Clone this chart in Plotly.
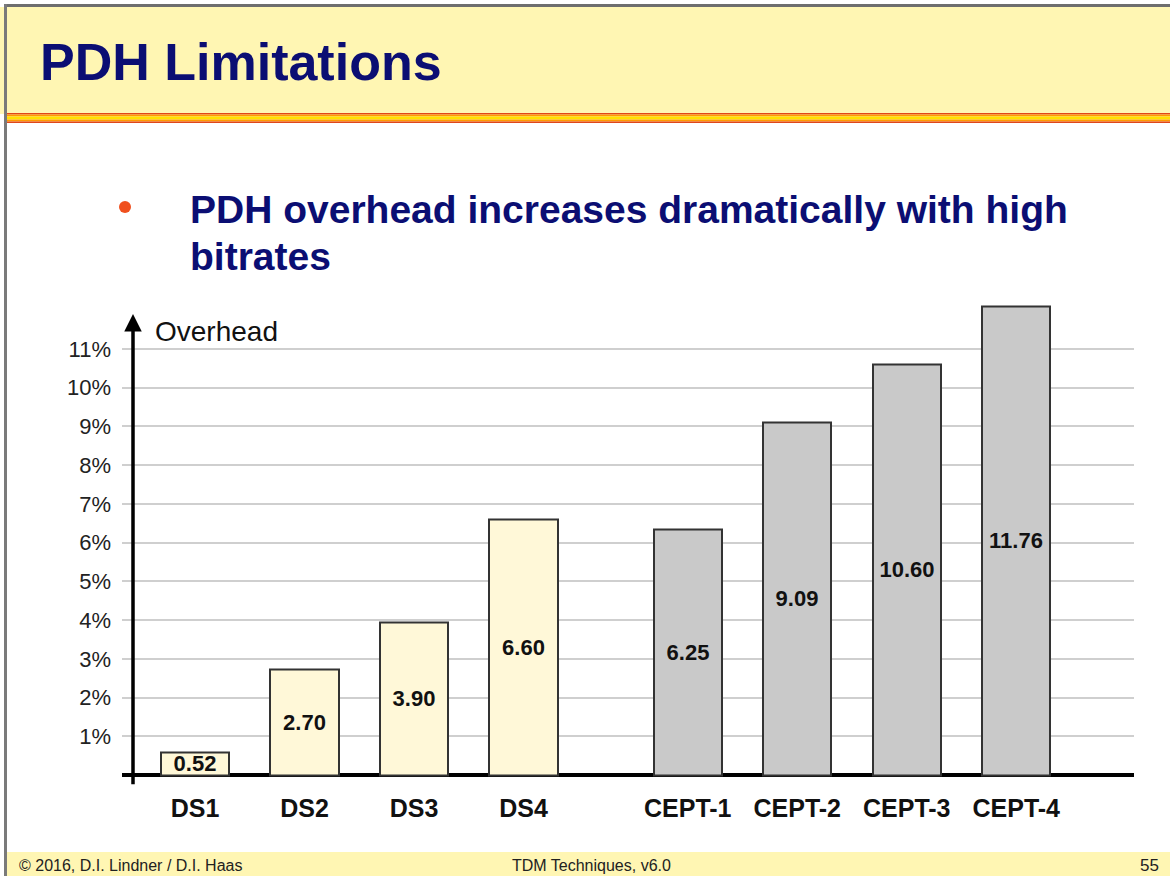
import plotly.graph_objects as go

# ---- data ----
categories = ["DS1", "DS2", "DS3", "DS4", "CEPT-1", "CEPT-2", "CEPT-3", "CEPT-4"]
groups = ["DS", "DS", "DS", "DS", "CEPT", "CEPT", "CEPT", "CEPT"]
value_labels = ["0.52", "2.70", "3.90", "6.60", "6.25", "9.09", "10.60", "11.76"]
bar_heights = [0.57, 2.73, 3.93, 6.60, 6.33, 9.10, 10.60, 12.10]
y_tick_values = [1, 2, 3, 4, 5, 6, 7, 8, 9, 10, 11]
y_tick_labels = ["1%", "2%", "3%", "4%", "5%", "6%", "7%", "8%", "9%", "10%", "11%"]

W, H = 1170, 876
FONT = "Arial, 'Liberation Sans', sans-serif"
NAVY = "#0B0E73"
YELLOW = "#FFF6B3"

def px(x):
    return x / W

def py(y):
    return 1 - y / H

# x positions: a half-slot gap between the two groups
xpos = []
for i, g in enumerate(groups):
    xpos.append(i + (0.5 if g == "CEPT" else 0.0))

fill_colors = ["#FFF8D8" if g == "DS" else "#C9C9C9" for g in groups]

fig = go.Figure()
fig.add_trace(go.Bar(
    x=xpos, y=bar_heights, width=0.624,
    marker=dict(color=fill_colors, line=dict(color="#333333", width=2)),
    text=["<b>" + t + "</b>" for t in value_labels],
    textposition="inside", insidetextanchor="middle", textangle=0,
    constraintext="none",
    textfont=dict(family=FONT, size=22, color="#111111"),
    hoverinfo="skip", showlegend=False,
))

# axis geometry (pixels)
plot_left, plot_right = 122, 1134
y_top_val, y_bot_val = 12.2, -0.3
unit_px = 38.73
zero_px = 775
plot_top = zero_px - y_top_val * unit_px
plot_bot = zero_px - y_bot_val * unit_px
slot_px = 109.5
x0_px = 195
x_left = (plot_left - x0_px) / slot_px
x_right = (plot_right - x0_px) / slot_px

fig.update_layout(
    width=W, height=H,
    margin=dict(l=0, r=0, t=0, b=0),
    paper_bgcolor="white", plot_bgcolor="rgba(0,0,0,0)",
    bargap=0,
    xaxis=dict(
        domain=[px(plot_left), px(plot_right)],
        range=[x_left, x_right],
        tickmode="array", tickvals=xpos,
        ticktext=["<b>" + c + "</b>" for c in categories],
        tickfont=dict(family=FONT, size=25, color="#111111"),
        showgrid=False, zeroline=False, showline=False,
        ticks="", ticklabelstandoff=4, fixedrange=True,
    ),
    yaxis=dict(
        domain=[py(plot_bot), py(plot_top)],
        range=[y_bot_val, y_top_val],
        tickmode="array", tickvals=y_tick_values, ticktext=y_tick_labels,
        tickfont=dict(family=FONT, size=22, color="#222222"),
        showgrid=True, gridcolor="#CFCFCF", gridwidth=1.5,
        zeroline=True, zerolinecolor="black", zerolinewidth=4,
        showline=False, ticks="", ticklabelstandoff=10, fixedrange=True,
    ),
)

shapes = []
# header band
shapes.append(dict(type="rect", xref="paper", yref="paper", x0=px(0), x1=px(W), y0=py(114), y1=py(7),
                   fillcolor=YELLOW, line=dict(width=0), layer="below"))
# top gray border
shapes.append(dict(type="rect", xref="paper", yref="paper", x0=px(4), x1=px(W), y0=py(7), y1=py(4),
                   fillcolor="#6E6E6E", line=dict(width=0), layer="below"))
# left gray border
shapes.append(dict(type="rect", xref="paper", yref="paper", x0=px(4), x1=px(7), y0=py(H), y1=py(4),
                   fillcolor="#7A7A7A", line=dict(width=0), layer="below"))
# stripes under header
stripe_colors = [("#E0461A", 113, 114.5), ("#FF9A00", 114.5, 116.5), ("#FFE100", 116.5, 119.5),
                 ("#FF9A00", 119.5, 121.5), ("#E0461A", 121.5, 123)]
for c, a, b in stripe_colors:
    shapes.append(dict(type="rect", xref="paper", yref="paper", x0=px(7), x1=px(W), y0=py(b), y1=py(a),
                       fillcolor=c, line=dict(width=0), layer="below"))
# footer band
shapes.append(dict(type="rect", xref="paper", yref="paper", x0=px(7), x1=px(W), y0=py(H), y1=py(852),
                   fillcolor=YELLOW, line=dict(width=0), layer="below"))
# bullet dot
shapes.append(dict(type="circle", xref="paper", yref="paper", x0=px(119), x1=px(131), y0=py(213), y1=py(201),
                   fillcolor="#F0501E", line=dict(width=0)))
fig.update_layout(shapes=shapes)

ax_x = (133 - x0_px) / slot_px
annotations = [
    dict(text="<b>PDH Limitations</b>", xref="paper", yref="paper", x=px(38), y=py(62),
         xanchor="left", yanchor="middle", showarrow=False,
         font=dict(family=FONT, size=52, color=NAVY)),
    dict(text="<b>PDH overhead increases dramatically with high</b>", xref="paper", yref="paper",
         x=px(188), y=py(210), xanchor="left", yanchor="middle", showarrow=False,
         font=dict(family=FONT, size=39, color=NAVY)),
    dict(text="<b>bitrates</b>", xref="paper", yref="paper",
         x=px(188), y=py(256), xanchor="left", yanchor="middle", showarrow=False,
         font=dict(family=FONT, size=39, color=NAVY)),
    dict(text="Overhead", xref="paper", yref="paper", x=px(153), y=py(331),
         xanchor="left", yanchor="middle", showarrow=False,
         font=dict(family=FONT, size=28, color="#111111")),
    # vertical axis arrow
    dict(text="", xref="x", yref="y", x=ax_x, y=11.9, axref="x", ayref="y", ax=ax_x, ay=-0.28,
         showarrow=True, arrowhead=2, arrowsize=1, arrowwidth=3.5, arrowcolor="black"),
    dict(text="© 2016, D.I. Lindner / D.I. Haas", xref="paper", yref="paper", x=px(17), y=py(865),
         xanchor="left", yanchor="middle", showarrow=False,
         font=dict(family=FONT, size=16, color="#222222")),
    dict(text="TDM Techniques, v6.0", xref="paper", yref="paper", x=px(591), y=py(865),
         xanchor="center", yanchor="middle", showarrow=False,
         font=dict(family=FONT, size=16, color="#222222")),
    dict(text="55", xref="paper", yref="paper", x=px(1161), y=py(865),
         xanchor="right", yanchor="middle", showarrow=False,
         font=dict(family=FONT, size=17, color="#222222")),
]
fig.update_layout(annotations=annotations)

fig.write_html("out.html", config={"displayModeBar": False},
               post_script="document.body.style.margin='0';document.body.style.overflow='hidden';")
